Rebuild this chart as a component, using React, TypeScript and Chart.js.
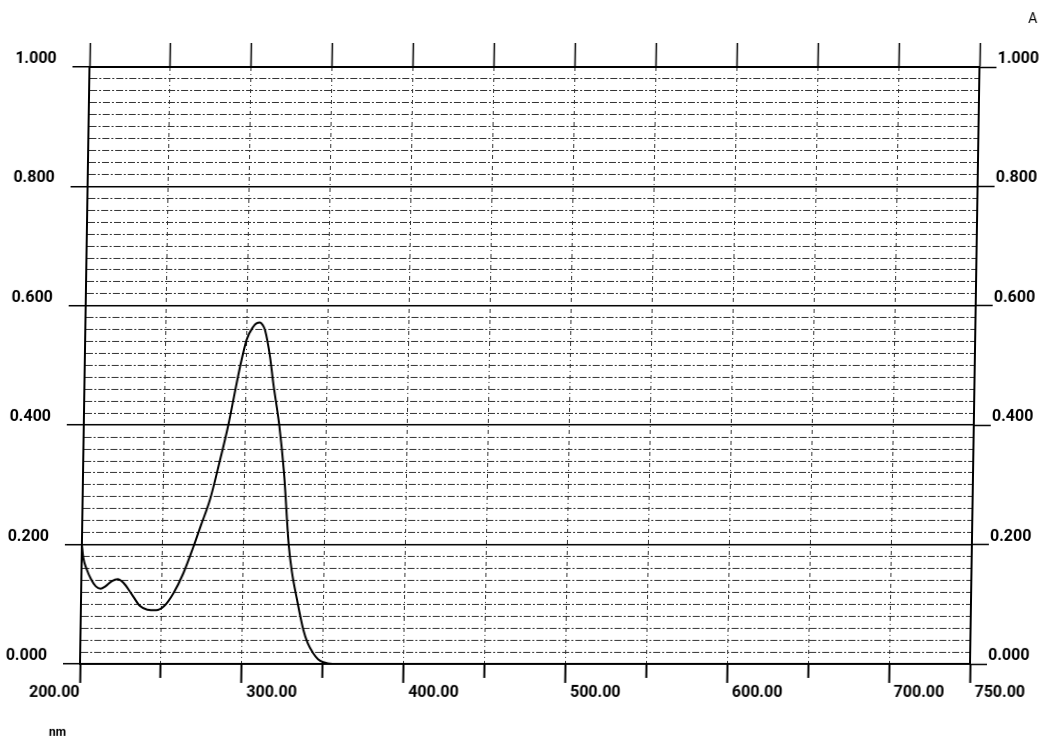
import React, { useEffect, useRef } from "react";
import { Chart, registerables } from "chart.js";

Chart.register(...registerables);

// ---- data ----
const WAVELENGTH_NM = [
  200, 201, 203, 206, 209, 212, 215, 219, 222.5, 226, 231, 236.5, 241, 246.5,
  251.5, 257, 263, 268.9, 273.5, 278.7, 284, 289.3, 296, 299.8, 303.8, 306,
  307.9, 309.5, 311.1, 314.4, 316.7, 320.8, 324.2, 327.8, 330, 333.3, 337.7,
  340.5, 344, 347, 350.3, 356, 400, 500, 600, 750,
];
const ABSORBANCE = [
  0.2, 0.178, 0.16, 0.142, 0.13, 0.126, 0.13, 0.139, 0.142, 0.136, 0.118, 0.097,
  0.091, 0.09, 0.097, 0.118, 0.152, 0.196, 0.233, 0.275, 0.335, 0.4, 0.498,
  0.543, 0.565, 0.571, 0.572, 0.568, 0.559, 0.515, 0.47, 0.4, 0.32, 0.2, 0.155,
  0.11, 0.057, 0.035, 0.018, 0.008, 0.003, 0, 0, 0, 0, 0,
];

const X_MIN = 200;
const X_MAX = 750;
const X_STEP = 50;
const X_LABEL_VALUES = [200, 300, 400, 500, 600, 700, 750];
const Y_MIN = 0;
const Y_MAX = 1;
const Y_STEP = 0.02;
const Y_MAJOR = 0.2;
const X_UNIT = "nm";
const Y_UNIT = "A";

const FONT_FAMILY = "Roboto, 'DejaVu Sans Condensed', sans-serif";
const LABEL_FONT = { family: FONT_FAMILY, size: 16, weight: "bold" as const };

const isMajorY = (v: number) =>
  Math.abs(v / Y_MAJOR - Math.round(v / Y_MAJOR)) < 1e-6;
const isMajorX = (v: number) => X_LABEL_VALUES.includes(Math.round(v));

const xLabelPlugin = {
  id: "xLabelPlugin",
  afterDraw(chart: any) {
    const ctx = chart.ctx;
    const s = chart.scales.x;
    ctx.save();
    ctx.fillStyle = "#000";
    ctx.font = `bold 16px ${FONT_FAMILY}`;
    ctx.textBaseline = "top";
    X_LABEL_VALUES.forEach((v, i) => {
      const px = s.getPixelForValue(v);
      const text = v.toFixed(2);
      if (i === 0) {
        ctx.textAlign = "right";
        ctx.fillText(text, px, s.top + 21);
      } else {
        ctx.textAlign = "left";
        ctx.fillText(text, px + 5, s.top + 21);
      }
    });
    ctx.font = `bold 12px ${FONT_FAMILY}`;
    ctx.textAlign = "left";
    ctx.fillText(X_UNIT, 50, s.top + 63);
    ctx.font = `14px ${FONT_FAMILY}`;
    ctx.fillText(Y_UNIT, 1018, 12);
    ctx.restore();
  },
};

export default function App() {
  const canvasRef = useRef<HTMLCanvasElement | null>(null);

  useEffect(() => {
    if (!canvasRef.current) return;
    const points = WAVELENGTH_NM.map((x, i) => ({ x, y: ABSORBANCE[i] }));
    const chart = new Chart(canvasRef.current, {
      type: "line",
      data: {
        datasets: [
          {
            data: points,
            borderColor: "#000",
            borderWidth: 2,
            pointRadius: 0,
            fill: false,
            cubicInterpolationMode: "monotone",
            xAxisID: "x",
            yAxisID: "y",
          },
        ],
      },
      options: {
        animation: false,
        responsive: false,
        devicePixelRatio: 1,
        events: [],
        layout: { padding: { top: 43, left: 0, right: 0, bottom: 0 } },
        plugins: { legend: { display: false }, tooltip: { enabled: false } },
        scales: {
          x: {
            type: "linear",
            position: "bottom",
            min: X_MIN,
            max: X_MAX,
            ticks: { stepSize: X_STEP, display: false, autoSkip: false },
            grid: {
              color: "#333",
              lineWidth: 1,
              tickLength: 19,
              tickColor: "#000",
              tickWidth: 2,
              tickBorderDash: (ctx: any) =>
                ctx.tick && !isMajorX(ctx.tick.value) ? [13, 40] : [],
            },
            border: {
              display: true,
              color: "#000",
              width: 2,
              dash: (ctx: any) => (ctx.tick ? [4, 3, 1, 3] : []),
            },
            afterFit: (s: any) => {
              s.height = 80;
            },
          },
          xTop: {
            type: "linear",
            position: "top",
            min: X_MIN,
            max: X_MAX,
            ticks: { stepSize: X_STEP, display: false, autoSkip: false },
            grid: {
              drawOnChartArea: false,
              tickLength: 24,
              tickColor: "#000",
              tickWidth: 1.5,
            },
            border: { display: true, color: "#000", width: 2 },
            afterFit: (s: any) => {
              s.height = 24;
            },
          },
          y: {
            type: "linear",
            position: "left",
            min: Y_MIN,
            max: Y_MAX,
            ticks: {
              stepSize: Y_STEP,
              autoSkip: false,
              color: "#000",
              font: LABEL_FONT,
              padding: 16,
              labelOffset: -8,
              callback: (v: any) => (isMajorY(Number(v)) ? Number(v).toFixed(3) : ""),
            },
            grid: {
              color: (ctx: any) =>
                ctx.tick && isMajorY(ctx.tick.value) ? "#000" : "#333",
              lineWidth: (ctx: any) =>
                ctx.tick && isMajorY(ctx.tick.value) ? 1.5 : 1,
              tickLength: 17,
              tickWidth: 1.5,
              tickColor: (ctx: any) =>
                ctx.tick && isMajorY(ctx.tick.value) ? "#000" : "rgba(0,0,0,0)",
            },
            border: {
              display: true,
              color: "#000",
              width: 2,
              dash: (ctx: any) =>
                ctx.tick && !isMajorY(ctx.tick.value) ? [7, 2, 2, 2] : [],
            },
            afterFit: (s: any) => {
              s.width = 80;
            },
          },
          yRight: {
            type: "linear",
            position: "right",
            min: Y_MIN,
            max: Y_MAX,
            ticks: {
              stepSize: Y_STEP,
              autoSkip: false,
              color: "#000",
              font: LABEL_FONT,
              padding: 1,
              labelOffset: -8,
              callback: (v: any) => (isMajorY(Number(v)) ? Number(v).toFixed(3) : ""),
            },
            grid: {
              drawOnChartArea: false,
              tickLength: 17,
              tickWidth: 1.5,
              tickColor: (ctx: any) =>
                ctx.tick && isMajorY(ctx.tick.value) ? "#000" : "rgba(0,0,0,0)",
            },
            border: { display: true, color: "#000", width: 2 },
            afterFit: (s: any) => {
              s.width = 78;
            },
          },
        },
      } as any,
      plugins: [xLabelPlugin],
    });
    return () => chart.destroy();
  }, []);

  return (
    <div
      style={{
        position: "absolute",
        left: 0,
        top: 0,
        width: 1048,
        height: 744,
        background: "#fff",
      }}
    >
      <canvas
        ref={canvasRef}
        width={1048}
        height={744}
        style={{
          display: "block",
          transform: "skewX(-0.91deg)",
          transformOrigin: "0 664px",
        }}
      />
    </div>
  );
}
